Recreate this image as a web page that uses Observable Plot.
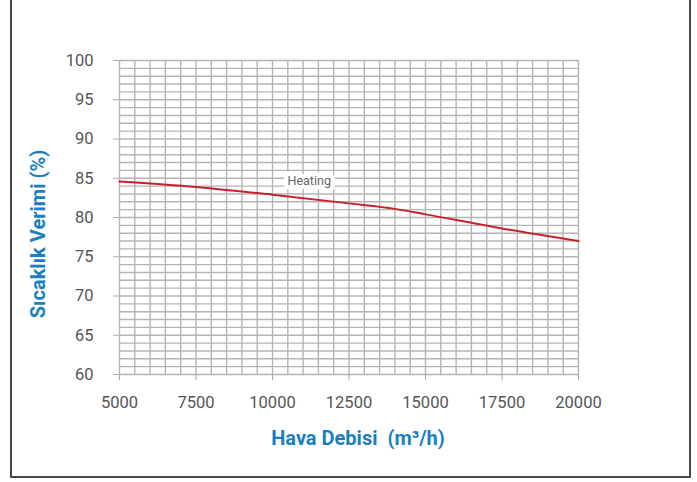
<!DOCTYPE html>
<html><head><meta charset="utf-8">
<script src="https://cdn.jsdelivr.net/npm/d3@7"></script>
<script src="https://cdn.jsdelivr.net/npm/@observablehq/plot@0.6"></script>
<style>
body{margin:0;background:#fff;overflow:hidden}
#chart{position:absolute;left:0;top:0}
#frame{position:absolute;left:10px;top:-5px;width:681px;height:483px;border:2px solid #4a4a4a;box-sizing:border-box}
#chart svg{font-family:Roboto,"Liberation Sans",sans-serif}
</style></head><body><div id="frame"></div><div id="chart"></div>
<script>
const airflow = [5000, 7500, 10000, 12500, 14000, 15000, 17500, 20000];
const efficiency = [84.6, 83.9, 82.9, 81.8, 81.1, 80.4, 78.6, 77.0];
const xTicks = [5000, 7500, 10000, 12500, 15000, 17500, 20000];
const yTicks = [60, 65, 70, 75, 80, 85, 90, 95, 100];
const seriesName = ["Heating"];
const seriesLabelX = [11200];
const seriesLabelY = [84.6];
const xTitle = "Hava Debisi  (m³/h)";
const yTitle = "Sıcaklık Verimi (%)";

const data = airflow.map((a, i) => ({a, e: efficiency[i]}));
const labels = seriesName.map((t, i) => ({t, x: seriesLabelX[i], y: seriesLabelY[i]}));

const plot = Plot.plot({
  width: 697, height: 482,
  marginLeft: 119, marginRight: 119, marginTop: 60, marginBottom: 108,
  x: {domain: [5000, 20000]},
  y: {domain: [60, 100]},
  style: {fontSize: "16.5px", color: "#555", background: "transparent"},
  marks: [
    Plot.gridX(d3.range(5000, 20001, 500), {stroke: "#b4b4b4", strokeOpacity: 1, strokeWidth: 1.4}),
    Plot.gridY(d3.range(60, 101, 1), {stroke: "#b4b4b4", strokeOpacity: 1, strokeWidth: 1.4}),
    Plot.axisX(xTicks, {tickSize: 6, tickPadding: 16, stroke: "#aaa", fill: "#555", label: null, tickFormat: d => String(d)}),
    Plot.axisY(yTicks, {tickSize: 6, tickPadding: 20, stroke: "#aaa", fill: "#555", label: null, tickFormat: d => String(d)}),
    Plot.text(labels, {x: "x", y: "y", text: "t", fill: "#666", stroke: "white", strokeWidth: 9, fontSize: 12.5}),
    Plot.line(data, {x: "a", y: "e", stroke: "#c62229", strokeWidth: 2, curve: "monotone-x"})
  ]
});
document.getElementById("chart").appendChild(plot);
const svg = d3.select(plot);
svg.append("text").attr("x", 358).attr("y", 438).attr("text-anchor", "middle").attr("dominant-baseline", "central")
  .attr("fill", "#1a7fc1").attr("font-weight", "bold").attr("font-size", 20).text(xTitle);
svg.append("text").attr("transform", "translate(38,234) rotate(-90)").attr("text-anchor", "middle").attr("dominant-baseline", "central")
  .attr("fill", "#1a7fc1").attr("font-weight", "bold").attr("font-size", 20).text(yTitle);
</script></body></html>
